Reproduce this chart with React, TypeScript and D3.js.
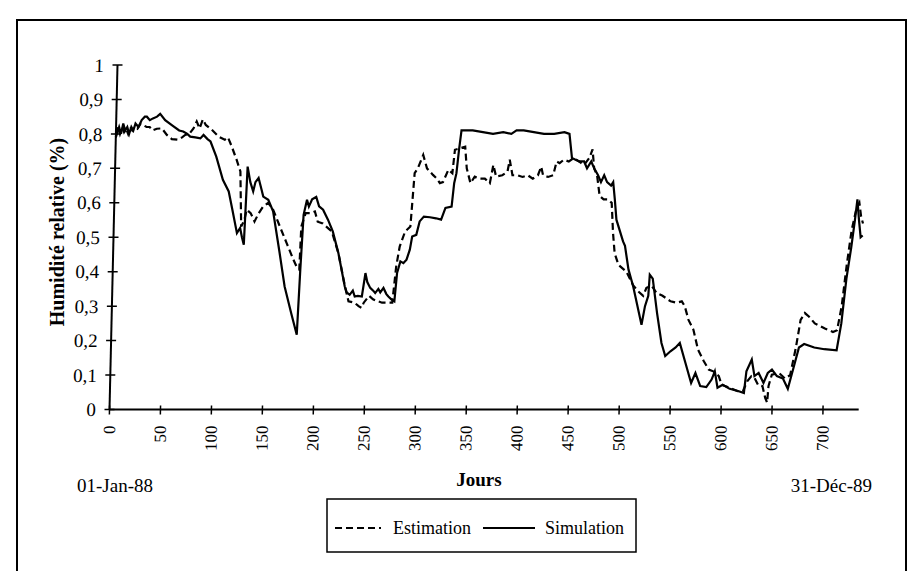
import React from "react";
import * as d3 from "d3";

// Simulation (solid line): day, relative humidity
const simDays = [0, 3, 5, 7, 9, 11, 13, 15, 17, 19, 22, 25, 28, 30, 33, 36, 40, 43, 48, 55, 62, 66, 70, 73, 78, 83, 86, 90, 93, 99, 106, 112, 116, 121, 124, 126, 128, 130, 133, 136, 138, 141, 144, 146, 151, 156, 163, 169, 176, 182, 184, 186, 189, 191, 194, 198, 201, 205, 210, 215, 221, 228, 230, 233, 236, 238, 241, 245, 248, 250, 253, 256, 258, 261, 263, 266, 269, 271, 274, 277, 279, 282, 285, 288, 291, 293, 297, 300, 304, 310, 316, 321, 325, 331, 333, 335, 337, 339, 350, 360, 370, 380, 388, 393, 400, 410, 420, 430, 440, 445, 448, 455, 460, 463, 467, 470, 474, 477, 480, 483, 487, 489, 491, 493, 500, 502, 506, 511, 520, 523, 526, 527, 530, 535, 540, 544, 549, 554, 558, 564, 570, 574, 579, 585, 590, 593, 596, 601, 608, 617, 622, 624, 629, 632, 636, 641, 645, 649, 654, 660, 665, 670, 675, 680, 690, 700, 712, 716, 720, 724, 727, 729, 731, 733, 735];
const simValues = [0.79, 0.82, 0.8, 0.83, 0.81, 0.82, 0.8, 0.82, 0.81, 0.83, 0.82, 0.84, 0.85, 0.85, 0.84, 0.845, 0.85, 0.858, 0.84, 0.825, 0.81, 0.807, 0.8, 0.792, 0.79, 0.787, 0.797, 0.785, 0.778, 0.734, 0.667, 0.633, 0.58, 0.512, 0.527, 0.5, 0.478, 0.705, 0.66, 0.633, 0.66, 0.672, 0.64, 0.618, 0.609, 0.575, 0.46, 0.357, 0.28, 0.217, 0.406, 0.565, 0.609, 0.589, 0.61, 0.617, 0.59, 0.58, 0.551, 0.517, 0.454, 0.357, 0.34, 0.333, 0.345, 0.328, 0.33, 0.328, 0.396, 0.37, 0.353, 0.345, 0.338, 0.35, 0.34, 0.353, 0.335, 0.328, 0.32, 0.314, 0.396, 0.43, 0.425, 0.435, 0.464, 0.502, 0.507, 0.546, 0.56, 0.558, 0.555, 0.551, 0.585, 0.589, 0.657, 0.686, 0.754, 0.81, 0.81, 0.805, 0.8, 0.805, 0.8, 0.81, 0.81, 0.805, 0.8, 0.8, 0.805, 0.8, 0.73, 0.72, 0.72, 0.7, 0.72, 0.7, 0.68, 0.66, 0.68, 0.66, 0.65, 0.66, 0.609, 0.551, 0.488, 0.475, 0.406, 0.357, 0.246, 0.3, 0.33, 0.391, 0.38, 0.28, 0.193, 0.155, 0.169, 0.18, 0.193, 0.135, 0.077, 0.106, 0.068, 0.065, 0.087, 0.111, 0.063, 0.072, 0.06, 0.053, 0.048, 0.111, 0.145, 0.097, 0.106, 0.077, 0.106, 0.116, 0.097, 0.09, 0.06, 0.12, 0.18, 0.19, 0.18, 0.175, 0.172, 0.25, 0.38, 0.47, 0.55, 0.61, 0.55, 0.5, 0.505];

// Estimation (dashed line)
const estDays = [0, 2, 4, 6, 8, 10, 12, 14, 16, 18, 21, 24, 27, 30, 33, 36, 40, 45, 50, 55, 61, 65, 68, 72, 76, 79, 82, 85, 88, 94, 101, 107, 110, 114, 119, 123, 125, 128, 130, 134, 138, 142, 146, 151, 156, 163, 170, 177, 181, 183, 184, 188, 193, 197, 200, 205, 214, 221, 228, 232, 238, 242, 245, 247, 252, 256, 260, 265, 270, 275, 278, 281, 286, 291, 294, 297, 302, 306, 312, 316, 319, 322, 327, 331, 333, 338, 343, 345, 349, 353, 358, 363, 368, 371, 374, 380, 385, 387, 390, 395, 400, 405, 410, 415, 418, 420, 425, 430, 433, 436, 440, 445, 450, 455, 460, 465, 468, 470, 473, 476, 480, 484, 488, 490, 492, 496, 504, 511, 516, 521, 524, 529, 534, 540, 548, 554, 559, 562, 566, 571, 576, 582, 587, 592, 597, 600, 608, 616, 621, 625, 629, 632, 636, 640, 643, 645, 646, 649, 656, 662, 667, 672, 676, 680, 684, 690, 700, 708, 712, 716, 720, 724, 728, 731, 733, 735];
const estValues = [0.8, 0.82, 0.8, 0.82, 0.805, 0.815, 0.8, 0.82, 0.81, 0.82, 0.815, 0.83, 0.825, 0.82, 0.82, 0.81, 0.815, 0.816, 0.797, 0.785, 0.783, 0.79, 0.797, 0.8, 0.816, 0.836, 0.816, 0.842, 0.826, 0.812, 0.792, 0.783, 0.79, 0.763, 0.725, 0.691, 0.531, 0.55, 0.58, 0.57, 0.546, 0.57, 0.589, 0.6, 0.58, 0.531, 0.483, 0.435, 0.41, 0.406, 0.531, 0.57, 0.57, 0.575, 0.545, 0.54, 0.517, 0.454, 0.36, 0.314, 0.31, 0.3, 0.295, 0.31, 0.33, 0.32, 0.315, 0.31, 0.31, 0.31, 0.415, 0.473, 0.517, 0.531, 0.686, 0.7, 0.739, 0.7, 0.681, 0.67, 0.657, 0.66, 0.696, 0.686, 0.754, 0.758, 0.763, 0.7, 0.657, 0.676, 0.67, 0.67, 0.657, 0.71, 0.676, 0.68, 0.69, 0.725, 0.68, 0.68, 0.675, 0.68, 0.67, 0.68, 0.705, 0.68, 0.675, 0.68, 0.72, 0.715, 0.725, 0.72, 0.73, 0.72, 0.71, 0.73, 0.755, 0.7, 0.68, 0.62, 0.61, 0.61, 0.6, 0.512, 0.454, 0.42, 0.4, 0.36, 0.343, 0.33, 0.353, 0.36, 0.338, 0.33, 0.314, 0.31, 0.314, 0.3, 0.26, 0.232, 0.174, 0.14, 0.116, 0.11, 0.097, 0.072, 0.063, 0.053, 0.053, 0.082, 0.097, 0.092, 0.07, 0.068, 0.034, 0.02, 0.068, 0.101, 0.106, 0.09, 0.1, 0.18, 0.26, 0.28, 0.27, 0.25, 0.235, 0.225, 0.23, 0.3, 0.42, 0.52, 0.58, 0.6, 0.56, 0.54];

const xTicks = [0, 50, 100, 150, 200, 250, 300, 350, 400, 450, 500, 550, 600, 650, 700];
const yTicks = [0, 0.1, 0.2, 0.3, 0.4, 0.5, 0.6, 0.7, 0.8, 0.9, 1];

const W = 914;
const H = 571;
const FONT = "'Liberation Serif', 'Times New Roman', serif";

export default function App() {
  const x = d3.scaleLinear().domain([0, 700]).range([109.5, 823]);
  const y = d3.scaleLinear().domain([0, 1]).range([409.5, 65]);
  const fmt = (v: number) => (v === 0 || v === 1 ? String(v) : d3.format(".1f")(v).replace(".", ","));

  const line = d3.line<[number, number]>().x((d) => x(d[0])).y((d) => y(d[1]));
  const sim = line(simDays.map((d, i) => [d, simValues[i]] as [number, number])) || "";
  const est = line(estDays.map((d, i) => [d, estValues[i]] as [number, number])) || "";

  // the scanned original is slightly sheared: the y axis leans right towards the top
  const shear = `translate(0,${y(0)}) skewX(-1.33) translate(0,${-y(0)})`;

  return (
    <svg width={W} height={H} style={{ position: "absolute", left: 0, top: 0, background: "#fff" }} fontFamily={FONT}>
      <rect x={0} y={0} width={W} height={H} fill="#fff" />
      <rect x={17} y={20} width={889} height={570} fill="none" stroke="#000" strokeWidth={2} />

      <g transform={shear}>
        <path d={est} fill="none" stroke="#000" strokeWidth={2.2} strokeDasharray="7,4" />
        <path d={sim} fill="none" stroke="#000" strokeWidth={2.2} />

        <line x1={x(0)} x2={x(0)} y1={y(0)} y2={y(1)} stroke="#000" strokeWidth={2} />
        {yTicks.map((t) => (
          <g key={t}>
            <line x1={x(0) - 5} x2={x(0) + 5} y1={y(t)} y2={y(t)} stroke="#000" strokeWidth={1.5} />
            <text x={96} y={y(t)} dy="0.35em" textAnchor="end" fontSize={19}>
              {fmt(t)}
            </text>
          </g>
        ))}

        <line x1={x(0)} x2={x(735)} y1={y(0)} y2={y(0)} stroke="#000" strokeWidth={2} />
        {xTicks.map((t) => (
          <g key={t}>
            <line x1={x(t)} x2={x(t)} y1={y(0) - 4} y2={y(0) + 5} stroke="#000" strokeWidth={1.5} />
            <text
              transform={`translate(${x(t)},${y(0) + 16}) rotate(-90)`}
              dy="0.35em"
              textAnchor="end"
              fontSize={17}
            >
              {t}
            </text>
          </g>
        ))}
      </g>

      <text transform="translate(64,232) rotate(-90)" textAnchor="middle" fontSize={20} fontWeight="bold">
        Humidité relative (%)
      </text>
      <text x={479} y={486} textAnchor="middle" fontSize={19} fontWeight="bold">
        Jours
      </text>
      <text x={77} y={492} fontSize={19}>
        01-Jan-88
      </text>
      <text x={872} y={492} textAnchor="end" fontSize={19}>
        31-Déc-89
      </text>

      <g>
        <rect x={327} y={499} width={309} height={53} fill="none" stroke="#000" strokeWidth={1.5} />
        <line x1={335} x2={381} y1={528} y2={528} stroke="#000" strokeWidth={2} strokeDasharray="7,4" />
        <text x={393} y={534} fontSize={18}>
          Estimation
        </text>
        <line x1={483} x2={535} y1={528} y2={528} stroke="#000" strokeWidth={2} />
        <text x={545} y={534} fontSize={18}>
          Simulation
        </text>
      </g>
    </svg>
  );
}
